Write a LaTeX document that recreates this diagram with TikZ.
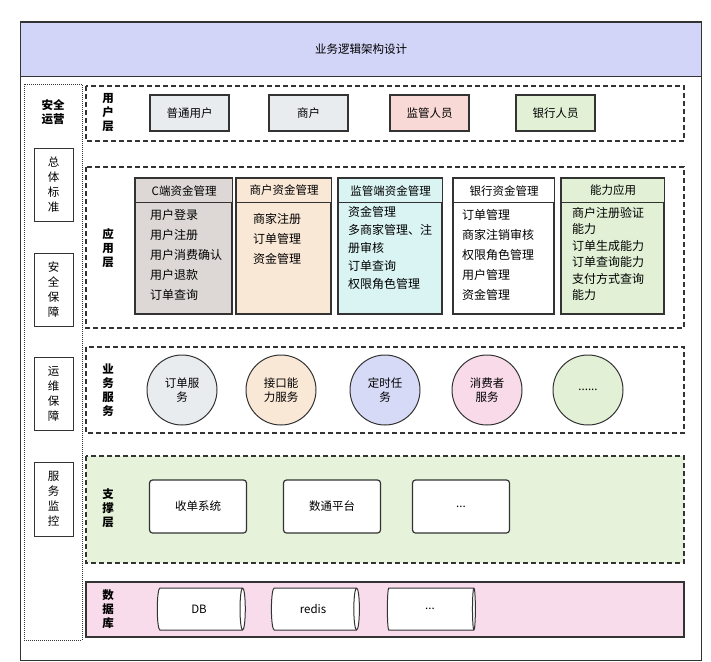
\documentclass[tikz,border=0pt]{standalone}
\usepackage{fontspec}
\setmainfont{Noto Sans CJK SC}
\usetikzlibrary{shapes.geometric}
\definecolor{titlec}{HTML}{D3D5F8}
\definecolor{gr}{HTML}{E9ECEF}
\definecolor{pk}{HTML}{F8D9D5}
\definecolor{gn}{HTML}{E2F1D6}
\definecolor{c1}{HTML}{DDD8D5}
\definecolor{c2}{HTML}{FAE8D7}
\definecolor{c3}{HTML}{DAF4F4}
\definecolor{bl}{HTML}{D7DAF7}
\definecolor{pp}{HTML}{F9DAE9}
\definecolor{sup}{HTML}{E6F3DA}
\definecolor{dbc}{HTML}{F8DCEB}
\definecolor{ln}{HTML}{333333}
\begin{document}
\begin{tikzpicture}[x=1pt,y=-1pt,font=\fontsize{11.5}{14}\selectfont,
 lay/.style={draw=ln,line width=1.2pt,dash pattern=on 5pt off 3pt},
 lbl/.style={font=\fontsize{11.5}{14}\selectfont\bfseries,align=center},
 ubox/.style={draw=ln,line width=1.2pt,minimum width=79pt,minimum height=36pt},
 sbox/.style={draw=ln,line width=1pt,align=center,minimum width=39pt,font=\fontsize{11.5}{15}\selectfont},
 hd/.style={draw=ln,line width=1.2pt,anchor=north west,minimum height=24pt},
 body/.style={anchor=north west,align=left,inner sep=0pt,font=\fontsize{12}{#1}\selectfont},
 circ/.style={circle,draw=ln,line width=1pt,minimum size=70pt,align=center},
 wbox/.style={draw=ln,line width=1.2pt,fill=white,rounded corners=3pt,minimum width=97pt,minimum height=53pt},
 cyl/.style={cylinder,draw=ln,line width=1pt,fill=white,aspect=0.35,minimum width=42pt,minimum height=88pt,shape border rotate=0}]
\useasboundingbox (0,0) rectangle (711,661);
\fill[white] (0,0) rectangle (711,661);
\draw[ln,line width=1pt] (20,22) rectangle (701,660);
\node[draw=ln,line width=1pt,fill=titlec,minimum width=681pt,minimum height=54pt,anchor=north west] (title) at (20,22) {业务逻辑架构设计};
% left column
\draw[ln,line width=1pt,densely dotted] (24,84) rectangle (82,640);
\node[lbl] (aq) at (53,112) {安全\\运营};
\node[sbox,minimum height=73pt] (s1) at (53.5,184.5) {总\\体\\标\\准};
\node[sbox,minimum height=73pt] (s2) at (53.5,289.5) {安\\全\\保\\障};
\node[sbox,minimum height=73pt] (s3) at (53.5,393.5) {运\\维\\保\\障};
\node[sbox,minimum height=74pt] (s4) at (53.5,499) {服\\务\\监\\控};
% user layer
\draw[lay] (86,86) rectangle (684,141);
\node[lbl] (l1) at (108,113) {用\\户\\层};
\node[ubox,fill=gr] (u1) at (189.5,113) {普通用户};
\node[ubox,fill=gr] (u2) at (308.5,113) {商户};
\node[ubox,fill=pk] (u3) at (429.5,113) {监管人员};
\node[ubox,fill=gn] (u4) at (555.5,113) {银行人员};
% app layer
\draw[lay] (86,167) rectangle (684,328);
\node[lbl] (l2) at (108,248) {应\\用\\层};
\foreach \n/\x/\w/\c/\t in {a/135/97/c1/C端资金管理,b/236/95/c2/商户资金管理,c/338/104/c3/监管端资金管理,d/453/101/white/银行资金管理,e/561/103/gn/能力应用}{
  \draw[ln,line width=1.2pt,fill=\c] (\x,178) rectangle ++(\w,136);
  \node[hd,fill=\c,minimum width=\w pt] (h\n) at (\x,178) {\t};
}
\node[body=20] (ba) at (150,209) {用户登录\\用户注册\\用户消费确认\\用户退款\\订单查询};
\node[body=20] (bb) at (253,213) {商家注册\\订单管理\\资金管理};
\node[body=18] (bc) at (348,206) {资金管理\\多商家管理、注\\册审核\\订单查询\\权限角色管理};
\node[body=20] (bd) at (462,209) {订单管理\\商家注销审核\\权限角色管理\\用户管理\\资金管理};
\node[body=16.5] (be) at (572,207) {商户注册验证\\能力\\订单生成能力\\订单查询能力\\支付方式查询\\能力};
% service layer
\draw[lay] (86,347) rectangle (684,433);
\node[lbl] (l3) at (108,390) {业\\务\\服\\务};
\node[circ,fill=gr] (k1) at (182,390) {订单服\\务};
\node[circ,fill=c2] (k2) at (281,390) {接口能\\力服务};
\node[circ,fill=bl] (k3) at (385,390) {定时任\\务};
\node[circ,fill=pp] (k4) at (487,390) {消费者\\服务};
\node[circ,fill=gn] (k5) at (588,390) {......};
% support layer
\draw[lay,fill=sup] (86,456) rectangle (684,563);
\node[lbl] (l4) at (108,508) {支\\撑\\层};
\node[wbox] (w1) at (198,506.5) {收单系统};
\node[wbox] (w2) at (332,506.5) {数通平台};
\node[wbox] (w3) at (461,506.5) {...};
% db layer
\draw[ln,line width=1.2pt,fill=dbc] (86,582) rectangle (684,637);
\node[lbl] (l5) at (108,609) {数\\据\\库};
\node[cyl] (d1) at (199,609) {DB};
\node[cyl] (d2) at (313,609) {redis};
\node[cyl] (d3) at (430,609) {...};
\end{tikzpicture}
\end{document}
